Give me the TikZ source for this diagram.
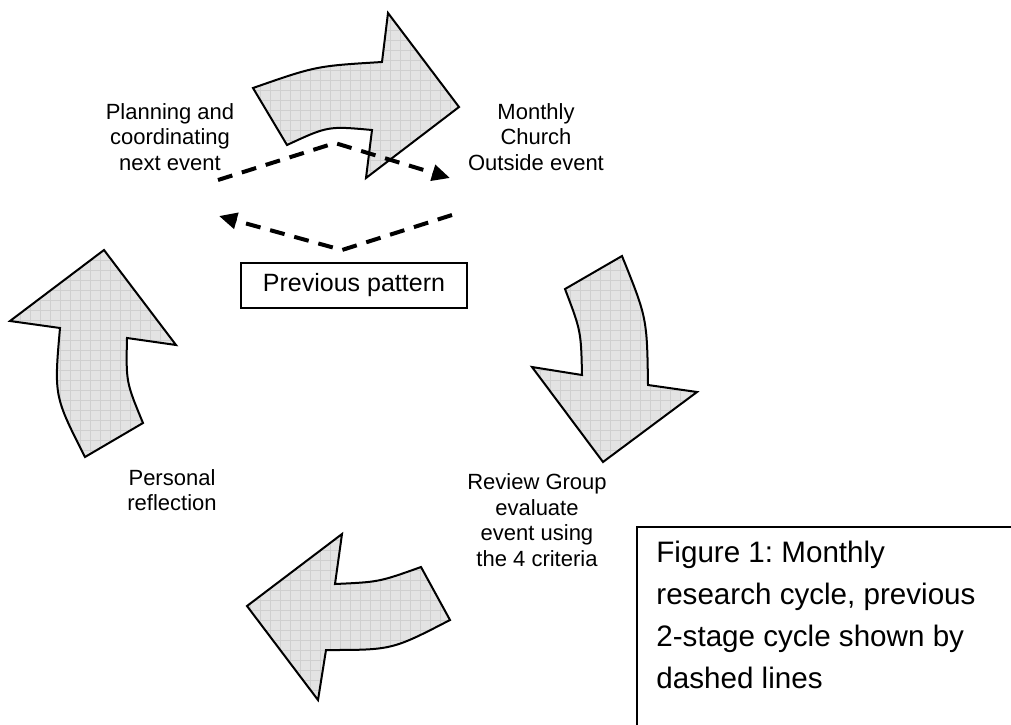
\documentclass[tikz,border=0pt]{standalone}
\usepackage{fontspec}
\setmainfont{Liberation Sans}
\usetikzlibrary{arrows.meta}
\frenchspacing

\tikzset{
  bigarrow/.style={draw=black, line width=1pt, fill=gray!22, line join=miter,
    path picture={\draw [gray!38, line width=0.3pt] (path picture bounding box.south west) grid[step=5pt] (path picture bounding box.north east);}},
  oldcycle/.style={black, line width=2pt, dash pattern=on 7.5pt off 5pt, -{Triangle[length=9pt,width=8pt]}},
  stagetext/.style={align=center, inner sep=0pt, font=\fontsize{11}{12.75}\selectfont},
}

\begin{document}
\begin{tikzpicture}[x=0.5pt, y=-0.5pt]
\useasboundingbox (0,0) rectangle (1011,724);

\draw [bigarrow] (253,88) .. controls (316,66) .. (382,62) -- (388,13) -- (459,107) -- (366,178) -- (372,130) .. controls (328,126) .. (287,145) -- cycle;
\draw [bigarrow] (622,256) -- (565,289) .. controls (581,331) .. (582,375) -- (532,367) -- (603,462) -- (697,392) -- (648,385) .. controls (647,318) .. cycle;
\draw [bigarrow] (342,534) -- (247,606) -- (318,700) -- (326,650) .. controls (392,650) .. (450,620) -- (421,567) .. controls (379,582) .. (335,584) -- cycle;
\draw [bigarrow] (104,250) -- (10,321) -- (60,328) .. controls (54,396) .. (85,457) -- (143,423) .. controls (126,382) .. (127,338) -- (176,345) -- cycle;

\node [stagetext] (planning) at (170,137) {Planning and\\coordinating\\next event};
\node [stagetext] (monthly) at (536,137) {Monthly\\Church\\Outside event};
\node [stagetext] (reflection) at (172,490) {Personal\\reflection};
\node [stagetext] (review) at (537,520) {Review Group\\evaluate\\event using\\the 4 criteria};

\coordinate (up1) at (218,180);
\coordinate (up2) at (335,143);
\coordinate (up3) at (450,178);
\coordinate (low1) at (452,215);
\coordinate (low2) at (342,250);
\coordinate (low3) at (219,216);
\draw [oldcycle] (up1) -- (up2) -- (up3);
\draw [oldcycle] (low1) -- (low2) -- (low3);

\node [draw, line width=0.8pt, minimum width=113pt, minimum height=22.5pt, inner sep=0pt, font=\fontsize{12.5}{14}\selectfont] (previous) at (354,285.5) {Previous pattern};

\draw [line width=0.8pt] (637,760) -- (637,527) -- (1040,527);
\node [anchor=north west, align=left, inner sep=0pt, font=\fontsize{14.8}{21}\selectfont] (caption) at (656,541) {Figure 1: Monthly\\research cycle, previous\\2-stage cycle shown by\\dashed lines};
\end{tikzpicture}
\end{document}
